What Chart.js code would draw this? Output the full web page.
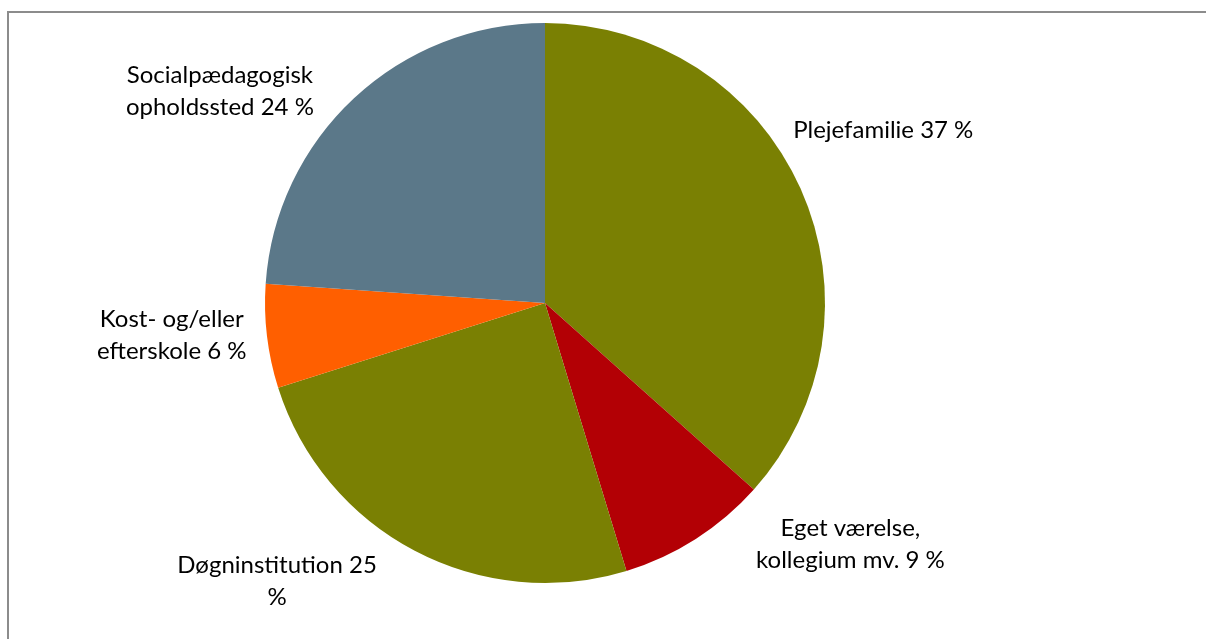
<!DOCTYPE html>
<html>
<head>
<meta charset="utf-8">
<script src="https://cdn.jsdelivr.net/npm/chart.js@4/dist/chart.umd.min.js"></script>
<style>
  html,body{margin:0;padding:0;background:#fff;overflow:hidden;}
  #frame{position:absolute;left:7px;top:11px;width:1300px;height:700px;border-top:2px solid #8c8c8c;border-left:2px solid #8c8c8c;}
  #wrap{position:absolute;left:0;top:0;width:1206px;height:639px;}
</style>
</head>
<body>
<div id="frame"></div>
<div id="wrap"><canvas id="c" width="1206" height="639"></canvas></div>
<script>
const categories = ["Plejefamilie", "Eget værelse, kollegium mv.", "Døgninstitution", "Kost- og/eller efterskole", "Socialpædagogisk opholdssted"];
const values = [36.6, 8.7, 24.8, 6.0, 23.9];
const percentLabels = ["37 %", "9 %", "25 %", "6 %", "24 %"];
const labelLines = [
  ["Plejefamilie 37 %"],
  ["Eget værelse,", "kollegium mv. 9 %"],
  ["Døgninstitution 25", "%"],
  ["Kost- og/eller", "efterskole 6 %"],
  ["Socialpædagogisk", "opholdssted 24 %"]
];
const colors = ["#7a8003", "#b30005", "#7a8003", "#ff5f00", "#5b7889"];

// label placement: angle (deg, clockwise from top) and distance as multiple of radius
const labelPlacement = [
  {angle: 62.9, dist: 1.357},
  {angle: 128.3, dist: 1.39},
  {angle: 223.9, dist: 1.38},
  {angle: 265.0, dist: 1.338},
  {angle: 303.1, dist: 1.386}
];

const labelPlugin = {
  id: 'outLabels',
  afterDatasetsDraw(chart) {
    const ctx = chart.ctx;
    const meta = chart.getDatasetMeta(0);
    const arc0 = meta.data[0];
    const cx = arc0.x, cy = arc0.y, r = arc0.outerRadius;
    ctx.save();
    ctx.fillStyle = '#000';
    ctx.font = '24px Lato, "Open Sans", sans-serif';
    ctx.textAlign = 'center';
    ctx.textBaseline = 'middle';
    const lh = 32;
    labelLines.forEach((lines, i) => {
      const p = labelPlacement[i];
      const a = p.angle * Math.PI / 180;
      const x = cx + Math.sin(a) * r * p.dist;
      const y = cy - Math.cos(a) * r * p.dist;
      const y0 = y - (lines.length - 1) * lh / 2;
      lines.forEach((t, j) => ctx.fillText(t, x, y0 + j * lh));
    });
    ctx.restore();
  }
};

new Chart(document.getElementById('c'), {
  type: 'pie',
  data: {
    labels: categories,
    datasets: [{
      data: values,
      backgroundColor: colors,
      borderWidth: 0
    }]
  },
  options: {
    responsive: false,
    animation: false,
    layout: {padding: {left: 265, right: 381, top: 23, bottom: 56}},
    plugins: {legend: {display: false}, tooltip: {enabled: false}}
  },
  plugins: [labelPlugin]
});
</script>
</body>
</html>
